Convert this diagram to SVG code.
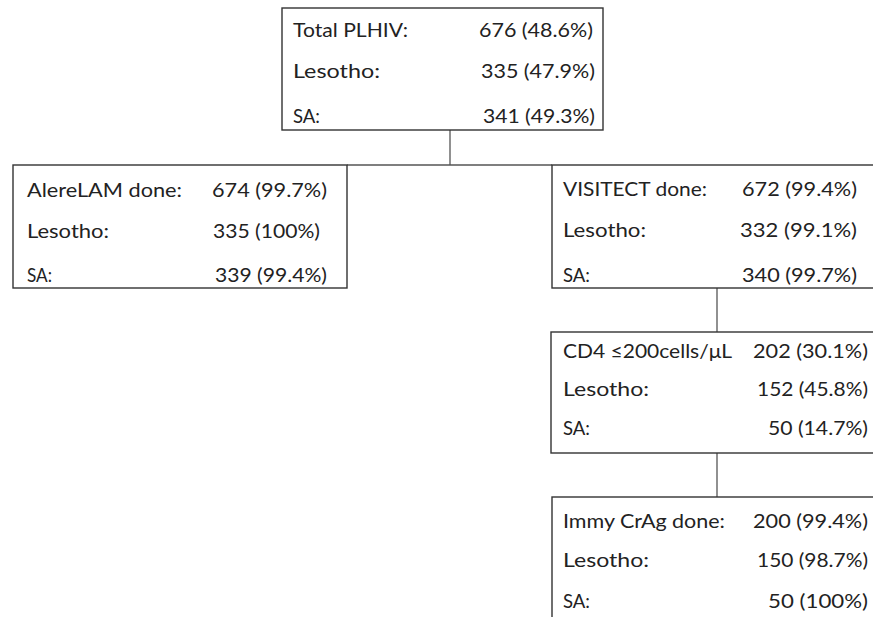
<svg xmlns="http://www.w3.org/2000/svg" width="873" height="617" viewBox="0 0 873 617">
<style>
.box{fill:#fff;stroke:#333;stroke-width:1.4}
.conn{stroke:#555;stroke-width:1.3;fill:none}
text{font-family:Lato,"Liberation Sans",sans-serif;font-size:19px;fill:#222}
</style>
<rect width="873" height="617" fill="#fff"/>
<g id="connectors">
<line class="conn" x1="450" y1="130" x2="450" y2="165"/>
<line class="conn" x1="347" y1="165" x2="552" y2="165"/>
<line class="conn" x1="717" y1="288" x2="717" y2="332"/>
<line class="conn" x1="717" y1="453" x2="717" y2="497"/>
</g>
<g id="total">
<rect class="box" x="282" y="8" width="321" height="122"/>
<text x="293" y="37" textLength="115" lengthAdjust="spacingAndGlyphs">Total PLHIV:</text>
<text x="479" y="37" textLength="114" lengthAdjust="spacingAndGlyphs">676 (48.6%)</text>
<text x="293" y="78" textLength="87" lengthAdjust="spacingAndGlyphs">Lesotho:</text>
<text x="481" y="78" textLength="114" lengthAdjust="spacingAndGlyphs">335 (47.9%)</text>
<text x="293" y="123" textLength="27" lengthAdjust="spacingAndGlyphs">SA:</text>
<text x="483" y="123" textLength="112" lengthAdjust="spacingAndGlyphs">341 (49.3%)</text>
</g>
<g id="alerelam">
<rect class="box" x="13" y="165" width="334" height="123"/>
<text x="27" y="197" textLength="155" lengthAdjust="spacingAndGlyphs">AlereLAM done:</text>
<text x="212" y="197" textLength="115" lengthAdjust="spacingAndGlyphs">674 (99.7%)</text>
<text x="27" y="238" textLength="82" lengthAdjust="spacingAndGlyphs">Lesotho:</text>
<text x="213" y="238" textLength="107" lengthAdjust="spacingAndGlyphs">335 (100%)</text>
<text x="27" y="282" textLength="25" lengthAdjust="spacingAndGlyphs">SA:</text>
<text x="215" y="282" textLength="112" lengthAdjust="spacingAndGlyphs">339 (99.4%)</text>
</g>
<g id="visitect">
<rect class="box" x="552" y="165" width="330" height="123"/>
<text x="563" y="196" textLength="144" lengthAdjust="spacingAndGlyphs">VISITECT done:</text>
<text x="742" y="196" textLength="115" lengthAdjust="spacingAndGlyphs">672 (99.4%)</text>
<text x="563" y="237" textLength="83" lengthAdjust="spacingAndGlyphs">Lesotho:</text>
<text x="740" y="237" textLength="117" lengthAdjust="spacingAndGlyphs">332 (99.1%)</text>
<text x="563" y="282" textLength="27" lengthAdjust="spacingAndGlyphs">SA:</text>
<text x="742" y="282" textLength="115" lengthAdjust="spacingAndGlyphs">340 (99.7%)</text>
</g>
<g id="cd4">
<rect class="box" x="551" y="332" width="331" height="121"/>
<text x="563" y="358" textLength="169" lengthAdjust="spacingAndGlyphs">CD4 ≤200cells/μL</text>
<text x="753" y="358" textLength="115" lengthAdjust="spacingAndGlyphs">202 (30.1%)</text>
<text x="563" y="396" textLength="86" lengthAdjust="spacingAndGlyphs">Lesotho:</text>
<text x="757" y="396" textLength="111" lengthAdjust="spacingAndGlyphs">152 (45.8%)</text>
<text x="563" y="435" textLength="27" lengthAdjust="spacingAndGlyphs">SA:</text>
<text x="768" y="435" textLength="100" lengthAdjust="spacingAndGlyphs">50 (14.7%)</text>
</g>
<g id="immy">
<rect class="box" x="552" y="497" width="330" height="130"/>
<text x="563" y="528" textLength="162" lengthAdjust="spacingAndGlyphs">Immy CrAg done:</text>
<text x="753" y="528" textLength="115" lengthAdjust="spacingAndGlyphs">200 (99.4%)</text>
<text x="563" y="567" textLength="86" lengthAdjust="spacingAndGlyphs">Lesotho:</text>
<text x="757" y="567" textLength="111" lengthAdjust="spacingAndGlyphs">150 (98.7%)</text>
<text x="563" y="608" textLength="27" lengthAdjust="spacingAndGlyphs">SA:</text>
<text x="768" y="608" textLength="100" lengthAdjust="spacingAndGlyphs">50 (100%)</text>
</g>
</svg>
